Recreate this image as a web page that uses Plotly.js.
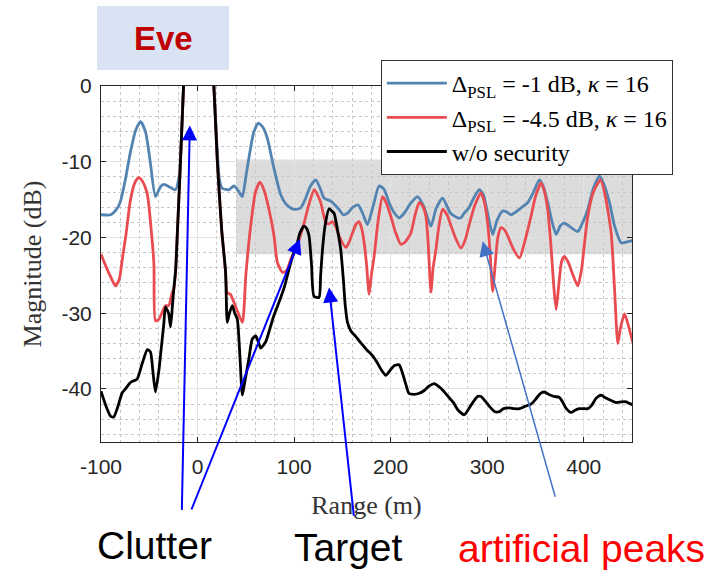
<!DOCTYPE html>
<html>
<head>
<meta charset="utf-8">
<script src="https://cdn.plot.ly/plotly-3.0.1.min.js"></script>
<style>
html,body{margin:0;padding:0;background:#fff;}
#chart{width:728px;height:577px;}
</style>
</head>
<body>
<div id="chart"></div>
<script>
// ---- data ----
const seriesNames = ["Δ<sub>PSL</sub> = -1 dB, <i>κ</i> = 16", "Δ<sub>PSL</sub> = -4.5 dB, <i>κ</i> = 16", "w/o security"];

const blueX = [-100,-90,-84,-80,-75,-69.5,-64,-59,-54,-49,-43.6,-38.4,-35,-28,-23,-19,-14.5,-8,0,8,16.9,20,22.5,25.6,32.5,37.7,42,46.4,50,53.2,58,63,68,72.3,79,86,91,96.5,101,106.8,112,117,122.4,127,131,138,146.6,151,155.3,161,166.3,171,176,182,188,193,198.4,203,208.8,214,220,227.9,234,241.7,247,253.8,262,269.4,272.8,276,281,286,291.8,296,299,305.7,310,316,320,324.7,330,336,342,348,354.1,358,362.7,367,371.4,376,380,386,393.9,399,404.2,410,416.3,421,426.7,432,438.8,444,450.9];
const blueY = [-17.0,-17.0,-16.3,-15.3,-12.5,-8.7,-5.8,-4.7,-6.0,-10.0,-14.6,-13.3,-13.0,-13.4,-13.7,-11.8,0,18,30,18,0,-7.5,-12.2,-13.5,-13.7,-13.2,-13.8,-14.6,-12.0,-9.5,-6.2,-4.9,-5.5,-6.9,-10.8,-14.3,-15.5,-16.1,-16.3,-16.1,-14.8,-13.2,-12.4,-13.5,-14.8,-15.2,-16.3,-17.0,-16.8,-16.0,-15.7,-16.8,-18.3,-15.8,-13.2,-13.6,-15.4,-16.6,-17.4,-16.8,-15.6,-14.6,-15.8,-18.5,-16.2,-14.8,-16.8,-17.4,-17.4,-16.8,-16.1,-14.8,-13.7,-14.3,-15.9,-19.6,-17.8,-16.5,-16.6,-17.0,-16.6,-16.0,-15.4,-14.0,-12.4,-13.2,-15.4,-17.8,-19.6,-18.4,-18.1,-18.6,-19.2,-18.0,-16.3,-13.5,-11.9,-13.0,-15.4,-18.5,-20.7,-20.6,-20.4];

const redX = [-100,-95,-90,-85,-81,-78,-74,-69.7,-65,-61,-57,-52,-48,-45.2,-43.6,-40,-36,-33.2,-29.8,-26.3,-24.6,-22.5,-14.5,-8,0,8,16.9,20.4,25,29,30.8,34,40,46.4,50,55,60,64.6,69,74,79,82.7,87.9,92,96.5,103.4,110.3,115,120.7,124,127.6,132.8,136,139.7,143,146.6,153.5,157,160.5,164,167.3,170,172.6,175,177.7,180,182.9,187,191.6,195,200.2,205,210.6,215,221,225,229.6,233,236.5,239,241.7,244,246.9,250,253.8,258,262.4,267,272.8,277,281,287,293.6,297,300.5,303,305.7,308,311,314.3,318,321.3,327,333.4,339,345.4,350,355.8,359,362.7,366,369,371.4,374,377,380,384,389,393.9,398,401,404.2,410,417.3,422,428.4,432,435.3,438,442.2,446,450.9];
const redY = [-22.2,-23.8,-25.2,-26.4,-25.5,-22.9,-19.5,-15.2,-12.8,-12.1,-12.6,-14.3,-19.0,-23.5,-31.0,-30.8,-29.7,-29.0,-29.0,-27.3,-26.8,-24.0,0,18,30,18,0,-9.7,-19.0,-24.5,-27.3,-27.5,-29.3,-31.2,-25.0,-18.5,-14.0,-12.7,-13.8,-16.3,-19.6,-23.3,-24.6,-24.4,-22.9,-21.0,-18.1,-15.8,-13.7,-14.3,-15.4,-18.0,-18.2,-17.9,-18.5,-19.8,-21.3,-20.6,-19.4,-18.3,-17.9,-18.8,-20.7,-23.5,-27.5,-25.0,-22.5,-17.8,-14.6,-15.3,-17.2,-19.3,-20.9,-20.6,-19.4,-17.2,-15.4,-15.8,-17.2,-21.0,-27.2,-24.0,-21.6,-18.5,-16.3,-16.9,-18.4,-20.0,-21.4,-20.4,-18.5,-15.8,-14.1,-15.3,-18.1,-22.0,-27.1,-24.0,-20.0,-18.7,-19.0,-19.8,-21.5,-22.7,-20.5,-17.2,-14.6,-12.8,-13.8,-16.3,-21.0,-26.5,-29.5,-26.5,-23.2,-22.5,-23.3,-25.0,-26.4,-24.0,-20.5,-17.2,-14.0,-12.4,-14.3,-19.4,-27.0,-34.0,-32.0,-30.1,-31.5,-33.9];

const blackX = [-100,-95,-90,-86.8,-83,-78,-74.7,-70,-67.7,-62.6,-57,-52,-48.8,-46,-43.6,-40,-38.4,-35,-33.2,-30,-28,-26,-24.6,-22.5,-14.5,-8,0,8,16.9,20.4,25,29,30.8,33,36,38.5,41.2,44,46.4,49,53.2,56.7,60.2,63,65.4,70.5,75,79.1,86,90,94.7,99,103.4,106,110.3,113,115.5,118,120.7,125.8,127.5,129.4,132,136.2,139,141.4,145,148.3,151,153,155.3,158.7,164,169.1,175,181.2,186,190,195,199,204,208.8,212,216,219,224.4,229,234.8,240,245.2,250,255,259,265,270,276.3,280,285,290,293.6,298,303,308,312.6,317,323,328,333.4,339,345.4,350,355,359.2,365,370,374.8,378,382,386.9,391,395.5,400,404.2,408,413,418,423,428,433.6,439,444,447,450.9];
const blackY = [-40.3,-42.2,-43.6,-43.7,-42.5,-40.5,-40.0,-39.2,-39.0,-38.7,-36.5,-34.8,-35.1,-38.0,-40.4,-37.5,-35.6,-31.5,-29.2,-30.0,-31.8,-29.0,-26.8,-24.0,0,18,30,18,0,-9.7,-19.0,-24.5,-31.2,-30.0,-29.0,-30.0,-30.8,-36.0,-40.8,-39.0,-36.0,-33.4,-33.0,-33.8,-34.6,-33.8,-32.0,-30.3,-28.0,-26.5,-24.2,-22.3,-20.7,-19.4,-18.5,-18.8,-19.8,-23.5,-27.8,-27.9,-25.0,-21.6,-18.5,-16.2,-16.5,-16.8,-19.0,-21.6,-25.5,-29.0,-31.2,-32.3,-33.1,-33.9,-34.8,-35.6,-36.5,-37.4,-38.2,-37.6,-36.9,-36.8,-37.8,-39.5,-40.6,-40.7,-40.6,-40.2,-39.6,-39.3,-39.7,-40.3,-40.9,-41.8,-42.8,-43.4,-42.8,-41.8,-41.0,-41.0,-41.6,-42.4,-43.0,-43.0,-42.6,-42.5,-42.6,-42.6,-42.3,-42.0,-41.4,-40.6,-40.4,-40.8,-41.0,-41.1,-41.7,-42.6,-43.1,-42.8,-42.6,-42.6,-42.6,-42.2,-41.2,-40.8,-41.2,-41.5,-41.8,-41.7,-41.7,-41.9,-42.1];

const xTickVals = [-100,0,100,200,300,400];
const yTickVals = [-40,-30,-20,-10,0];
const xRange = [-100,450];
const yRange = [-47,0];

// highlighted band of artificial peaks
const bandX = [40, 456];
const bandY = [-22.2, -9.7];

// arrow heads (data) and tails (pixel offsets)
const arrowHeadX = [-8, 106, 136.2, 295.3];
const arrowHeadY = [-5.2, -20.2, -26.6, -20.5];
const arrowTailDX = [-8, -109, 25, 73];
const arrowTailDY = [386, 272, 230, 257];
const arrowColors = ["#0000FF","#0000FF","#0000FF","#4472C4"];
const arrowWidths = [2, 2, 2, 1.5];

const sans = "Liberation Sans, Arial, sans-serif";
const serif = "Liberation Serif, Times New Roman, serif";

const colors = ["rgb(83,131,176)", "rgb(232,76,80)", "#000000"];
const xs = [blueX, redX, blackX];
const ys = [blueY, redY, blackY];

const traces = xs.map((x, i) => ({
  x: x, y: ys[i], type: "scatter", mode: "lines",
  name: seriesNames[i],
  line: {color: colors[i], width: 2.8, shape: "spline", smoothing: 0.6}
}));

const arrowAnns = arrowHeadX.map((hx, i) => ({
  x: hx, y: arrowHeadY[i], xref: "x", yref: "y",
  ax: arrowTailDX[i], ay: arrowTailDY[i],
  text: "", showarrow: true, arrowhead: 2,
  arrowsize: i === 3 ? 2 : 1.5, arrowwidth: arrowWidths[i],
  arrowcolor: arrowColors[i], standoff: 0
}));

const layout = {
  width: 728, height: 577,
  margin: {l: 101, r: 96, t: 86, b: 135},
  paper_bgcolor: "#ffffff", plot_bgcolor: "#ffffff",
  showlegend: true,
  legend: {
    x: 0.527, y: 1.073, xanchor: "left", yanchor: "top",
    bgcolor: "#ffffff", bordercolor: "#333333", borderwidth: 1,
    font: {family: serif, size: 24, color: "#000"},
    itemwidth: 60,
    tracegroupgap: 0
  },
  xaxis: {
    range: xRange, tickvals: xTickVals, ticktext: xTickVals.map(String),
    ticks: "inside", ticklen: 5, tickcolor: "#262626",
    showline: true, linecolor: "#262626", linewidth: 1, mirror: "ticks",
    showgrid: true, gridcolor: "#e3e3e3", gridwidth: 1, zeroline: false,
    minor: {dtick: 20, showgrid: true, gridcolor: "#c8c8c8", griddash: "dot", gridwidth: 1},
    tickfont: {family: sans, size: 21, color: "#262626"},
    ticklabelstandoff: 6,
    title: {text: "Range (m)", font: {family: serif, size: 26, color: "#333"}, standoff: 18}
  },
  yaxis: {
    range: yRange, tickvals: yTickVals, ticktext: yTickVals.map(String),
    ticks: "inside", ticklen: 5, tickcolor: "#262626",
    showline: true, linecolor: "#262626", linewidth: 1, mirror: "ticks",
    showgrid: true, gridcolor: "#e3e3e3", gridwidth: 1, zeroline: false,
    minor: {dtick: 2, showgrid: true, gridcolor: "#c8c8c8", griddash: "dot", gridwidth: 1},
    tickfont: {family: sans, size: 21, color: "#262626"},
    ticklabelstandoff: 4,
    title: {text: "Magnitude (dB)", font: {family: serif, size: 26, color: "#333"}, standoff: 12}
  },
  shapes: [
    {type: "rect", xref: "x", yref: "y", x0: bandX[0], x1: bandX[1], y0: bandY[0], y1: bandY[1],
     fillcolor: "rgba(140,140,140,0.3)", line: {width: 0}, layer: "below"},
    {type: "rect", xref: "paper", yref: "paper", x0: -0.0075, x1: 0.2411, y0: 1.0449, y1: 1.2247,
     fillcolor: "#DAE3F3", line: {width: 0}, layer: "above"}
  ],
  annotations: [
    {text: "Eve", xref: "paper", yref: "paper", x: 0.1186, y: 1.1348, showarrow: false,
     xanchor: "center", yanchor: "middle",
     font: {family: sans, size: 33, color: "#C00000", weight: 700}},
    {text: "Clutter", xref: "paper", yref: "paper", x: 0.1008, y: -0.2894, showarrow: false,
     xanchor: "center", yanchor: "middle", font: {family: sans, size: 39, color: "#000"}},
    {text: "Target", xref: "paper", yref: "paper", x: 0.467, y: -0.2956, showarrow: false,
     xanchor: "center", yanchor: "middle", font: {family: sans, size: 39, color: "#000"}},
    {text: "artificial peaks", xref: "paper", yref: "paper", x: 0.905, y: -0.2985, showarrow: false,
     xanchor: "center", yanchor: "middle", font: {family: sans, size: 39, color: "#FF0000"}}
  ].concat(arrowAnns)
};

Plotly.newPlot("chart", traces, layout, {displayModeBar: false, staticPlot: true});
</script>
</body>
</html>
